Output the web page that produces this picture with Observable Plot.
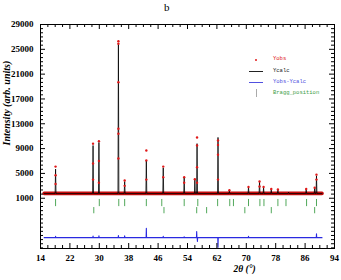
<!DOCTYPE html>
<html><head><meta charset="utf-8">
<script src="https://cdn.jsdelivr.net/npm/d3@7"></script>
<script src="https://cdn.jsdelivr.net/npm/@observablehq/plot@0.6"></script>
<style>
body{margin:0;background:#fff;}
#wrap{position:relative;width:341px;height:280px;overflow:hidden;background:#fff;}
#title{position:absolute;left:164px;top:1px;font:11px "Liberation Serif",serif;color:#000;}
#chart{position:absolute;left:0;top:16px;}
.lg{position:absolute;font:5.5px "Liberation Mono","DejaVu Sans Mono",monospace;line-height:6px;white-space:nowrap;}
.sym{position:absolute;}
</style></head><body>
<div id="wrap"><div id="title">b</div><div id="chart"></div><div id="legend"></div></div>
<script>
// ---- data ----
const peakPos  = [18.1, 28.3, 29.9, 35.2, 36.9, 42.8, 47.4, 53.1, 56.0, 56.6, 62.3, 65.4, 70.6, 73.6, 74.7, 76.8, 78.6, 81.5, 86.3, 88.6, 89.1];
const calcPeak = [5700, 9500, 10000, 26000, 3700, 7100, 5900, 4300, 4000, 9800, 10800, 2200, 2750, 3600, 2700, 2450, 2350, 1950, 2450, 2650, 4600];
const obsDotX  = [18.1, 18.1, 18.1, 28.3, 28.3, 28.3, 29.9, 29.9, 29.9, 35.2, 35.2, 35.2, 35.2, 35.2, 35.2, 36.9, 36.9, 42.8, 42.8, 42.8, 47.4, 47.4, 53.1, 53.1, 56.0, 56.6, 56.6, 56.6, 56.6, 62.3, 62.3, 62.3, 62.3, 65.4, 70.6, 73.6, 73.6, 74.7, 76.8, 78.6, 86.3, 88.6, 89.1, 89.1];
const obsDotY  = [6100, 4700, 3300, 9800, 6600, 4000, 10200, 7000, 3500, 26300, 25900, 19700, 12200, 11400, 7400, 3850, 3000, 8700, 7100, 4000, 6100, 4400, 4400, 3500, 4050, 10800, 9500, 6000, 3500, 10300, 9600, 8000, 4000, 2300, 2800, 3700, 2900, 2800, 2500, 2400, 2500, 2700, 4800, 4000];
const diffPos  = [18.1, 28.3, 29.9, 35.2, 36.9, 42.8, 47.4, 53.1, 56.5, 56.7, 62.3, 70.6, 89.1];
const diffVal  = [200, 250, 300, 350, 300, 1500, 200, 150, 1000, -600, -1560, 200, 600];
const braggRow1 = [18.1, 30.0, 35.3, 36.9, 42.8, 47.0, 53.1, 56.8, 62.2, 65.5, 66.5, 70.6, 73.7, 74.8, 78.6, 80.8, 86.4, 89.1];
const braggRow2 = [28.5, 47.6, 56.5, 59.2, 69.6, 76.8, 88.6];
const obsBase = 1780, calcBase = 1750, diffBase = -5350;
const scanStart = 15.0, scanEnd = 90.6;
const xTickLabels = [14, 22, 30, 38, 46, 54, 62, 70, 78, 86, 94];
const yTickLabels = [1000, 5000, 9000, 13000, 17000, 21000, 25000, 29000];

// ---- derived tables ----
const hw = 0.12;
const calcLine = [{x: scanStart, y: calcBase}];
peakPos.forEach((p, i) => { calcLine.push({x: p - hw, y: calcBase}, {x: p, y: calcPeak[i]}, {x: p + hw, y: calcBase}); });
calcLine.push({x: scanEnd, y: calcBase});
calcLine.sort((a, b) => a.x - b.x);
const obsBand = [{x: scanStart, y: obsBase}, {x: scanEnd, y: obsBase}];
const obsDots = obsDotX.map((x, i) => ({x, y: obsDotY[i]}));
const diffLine = [{x: scanStart, y: diffBase}];
diffPos.forEach((p, i) => { diffLine.push({x: p - 0.06, y: diffBase}, {x: p, y: diffBase + diffVal[i]}, {x: p + 0.06, y: diffBase}); });
diffLine.push({x: scanEnd, y: diffBase});
diffLine.sort((a, b) => a.x - b.x);

const xMinor = d3.range(14, 94.01, 2).filter(v => !xTickLabels.includes(v));
const yStep = 4000 / 6;
const yMinor = [];
for (let v = 1000 - yStep; v > -7100; v -= yStep) yMinor.push(v);
for (let v = 1000 + yStep; v < 29000; v += yStep) if (Math.abs(((v - 1000) / 4000) % 1) > 0.01 && Math.abs(((v - 1000) / 4000) % 1) < 0.99) yMinor.push(v);

const W = 341, H = 264, mL = 40, mR = 7, mT = 8, mB = 32;
const FW = W - mL - mR, FH = H - mT - mB;
const red = "#e01818", band = "#c40c0c", blue = "#2a2ae0", green = "#3e9e48";

const chart = Plot.plot({
  width: W, height: H, marginLeft: mL, marginRight: mR, marginTop: mT, marginBottom: mB,
  x: {domain: [14, 94]},
  y: {domain: [-7100, 29000]},
  style: {fontFamily: "Liberation Serif, serif", fontSize: "9px", fontWeight: "bold", background: "#fff", color: "#000"},
  marks: [
    Plot.line(obsBand, {x: "x", y: "y", stroke: band, strokeWidth: 3.6}),
    Plot.line(calcLine, {x: "x", y: "y", stroke: "#000", strokeWidth: 0.8}),
    Plot.dot(obsDots, {x: "x", y: "y", r: 1.2, fill: red, stroke: "none"}),
    Plot.line(diffLine, {x: "x", y: "y", stroke: blue, strokeWidth: 1.1}),
    Plot.ruleX(braggRow1, {x: d => d, y1: 800, y2: -350, stroke: green, strokeWidth: 0.9}),
    Plot.ruleX(braggRow2, {x: d => d, y1: -500, y2: -1500, stroke: green, strokeWidth: 0.9}),
    Plot.frame({stroke: "#000", strokeWidth: 1}),
    // inward ticks, all sides
    Plot.tickY(yTickLabels, {y: d => d, insetRight: FW - 5, stroke: "#000"}),
    Plot.tickY(yMinor, {y: d => d, insetRight: FW - 3, stroke: "#000"}),
    Plot.tickY(yTickLabels, {y: d => d, insetLeft: FW - 5, stroke: "#000"}),
    Plot.tickY(yMinor, {y: d => d, insetLeft: FW - 3, stroke: "#000"}),
    Plot.tickX(xTickLabels, {x: d => d, insetTop: FH - 5, stroke: "#000"}),
    Plot.tickX(xMinor, {x: d => d, insetTop: FH - 3, stroke: "#000"}),
    Plot.tickX(xTickLabels, {x: d => d, insetBottom: FH - 5, stroke: "#000"}),
    Plot.tickX(xMinor, {x: d => d, insetBottom: FH - 3, stroke: "#000"}),
    Plot.axisY(yTickLabels, {tickSize: 0, tickPadding: 7, label: null, tickFormat: d => String(d)}),
    Plot.axisX(xTickLabels, {tickSize: 0, tickPadding: 6, label: null, tickFormat: d => String(d)}),
    Plot.text(["Intensity (arb. units)"], {text: d => d, frameAnchor: "left", dx: -34, dy: 9, rotate: -90, fontStyle: "italic", fontWeight: "bold", fontSize: 10}),
    Plot.text(["2θ (°)"], {text: d => d, frameAnchor: "bottom", dx: 57, dy: 23.5, fontStyle: "italic", fontWeight: "bold", fontSize: 9.5})
  ]
});
document.getElementById("chart").appendChild(chart);

// legend (HTML overlay)
const legendItems = [
  {label: "Yobs", color: red, kind: "dot", y: 59},
  {label: "Ycalc", color: "#222", kind: "line", y: 70.5},
  {label: "Yobs-Ycalc", color: "#5050e0", kind: "line", y: 82},
  {label: "Bragg_position", color: green, kind: "tick", y: 93}
];
const lg = document.getElementById("legend");
legendItems.forEach(it => {
  const t = document.createElement("div");
  t.className = "lg"; t.textContent = it.label; t.style.color = it.color;
  t.style.left = "273px"; t.style.top = (it.y - 3) + "px";
  lg.appendChild(t);
  const s = document.createElement("div");
  s.className = "sym";
  if (it.kind === "dot") { s.style.cssText += `left:254.5px;top:${it.y}px;width:2.2px;height:2.2px;border-radius:50%;background:${it.color};`; }
  else if (it.kind === "line") { s.style.cssText += `left:249px;top:${it.y}px;width:14px;height:1px;background:${it.color};`; }
  else { s.style.cssText += `left:256px;top:${it.y - 4}px;width:1px;height:8px;background:#aaa;`; }
  lg.appendChild(s);
});
</script>
</body></html>
